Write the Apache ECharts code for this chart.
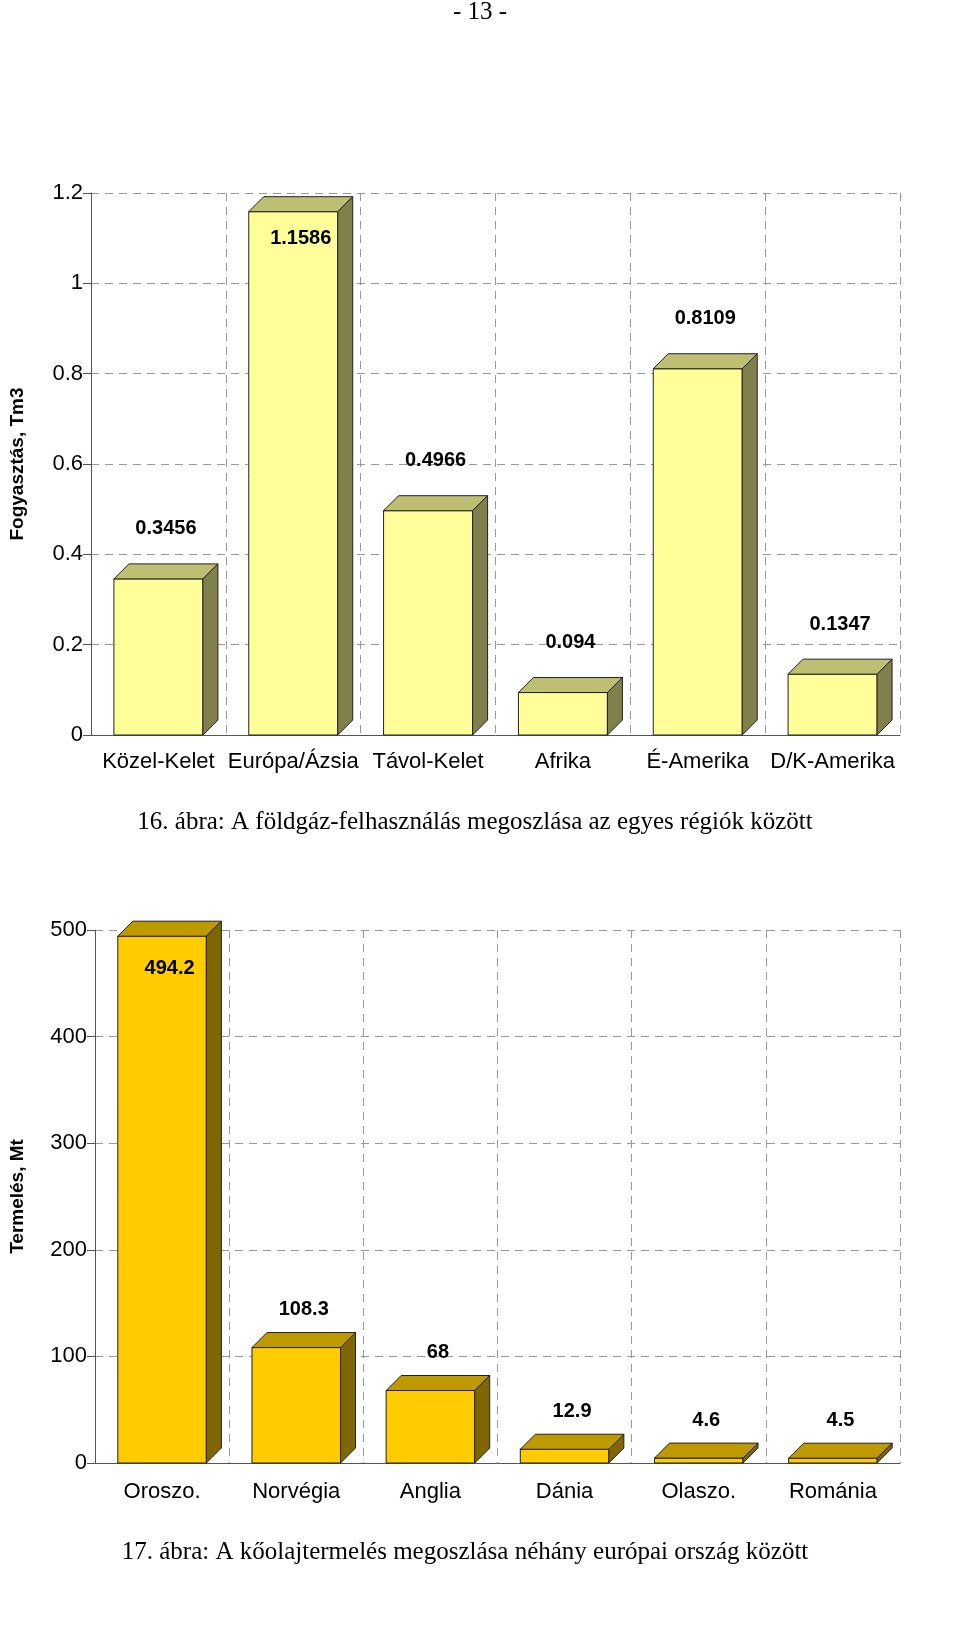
<!DOCTYPE html>
<html>
<head>
<meta charset="utf-8">
<script src="https://cdn.jsdelivr.net/npm/echarts@6/dist/echarts.min.js"></script>
<style>
  html, body { margin: 0; padding: 0; background: #fff; }
  #chart { width: 960px; height: 1637px; }
</style>
</head>
<body>
<div id="chart"></div>
<script>
// chart 16: gas consumption per region
var gasRegions = ['Közel-Kelet', 'Európa/Ázsia', 'Távol-Kelet', 'Afrika', 'É-Amerika', 'D/K-Amerika'];
var gasValues = [0.3456, 1.1586, 0.4966, 0.094, 0.8109, 0.1347];
// chart 17: oil production per country
var oilCountries = ['Oroszo.', 'Norvégia', 'Anglia', 'Dánia', 'Olaszo.', 'Románia'];
var oilValues = [494.2, 108.3, 68, 12.9, 4.6, 4.5];

var DEPTH = 15;

// 3d-looking bar: front face, top and side
function bar3d(colors, labelGap, topLimit) {
  return function (params, api) {
    var idx = api.value(0), val = api.value(1);
    var top = api.coord([idx, val]);
    var base = api.coord([idx, 0]);
    var w = api.size([1, 0])[0] * 0.66;
    var x0 = top[0] - w / 2, x1 = top[0] + w / 2;
    var ly = Math.max(top[1] - labelGap, topLimit);
    return {
      type: 'group',
      children: [
        { type: 'rect', shape: { x: x0, y: top[1], width: w, height: base[1] - top[1] },
          style: { fill: colors[0], stroke: '#222', lineWidth: 1 } },
        { type: 'polygon', shape: { points: [[x0, top[1]], [x0 + DEPTH, top[1] - DEPTH], [x1 + DEPTH, top[1] - DEPTH], [x1, top[1]]] },
          style: { fill: colors[1], stroke: '#222', lineWidth: 1 } },
        { type: 'polygon', shape: { points: [[x1, top[1]], [x1 + DEPTH, top[1] - DEPTH], [x1 + DEPTH, base[1] - DEPTH], [x1, base[1]]] },
          style: { fill: colors[2], stroke: '#222', lineWidth: 1 } },
        { type: 'text', style: { text: String(val), x: top[0] + DEPTH / 2, y: ly, align: 'center', verticalAlign: 'middle',
          font: 'bold 20px "Liberation Sans", Arial', fill: '#000' } }
      ]
    };
  };
}

var chart = echarts.init(document.getElementById('chart'));
var axisLabelStyle = { fontFamily: 'Liberation Sans', fontSize: 22, color: '#000' };
var split = { show: true, lineStyle: { color: '#999', type: [8, 6], width: 1 } };
var nameStyle = { fontFamily: 'Liberation Sans', fontSize: 19, fontWeight: 'bold', color: '#000' };

chart.setOption({
  animation: false,
  graphic: [
    { type: 'text', left: 'center', top: 0, style: { text: '- 13 -', font: '25px "Liberation Serif"', fill: '#000' } },
    { type: 'text', x: 475, y: 822, style: { text: '16. ábra: A földgáz-felhasználás megoszlása az egyes régiók között',
      font: '25px "Liberation Serif"', fill: '#000', align: 'center', verticalAlign: 'middle' } },
    { type: 'text', x: 465, y: 1552, style: { text: '17. ábra: A kőolajtermelés megoszlása néhány európai ország között',
      font: '25px "Liberation Serif"', fill: '#000', align: 'center', verticalAlign: 'middle' } }
  ],
  grid: [
    { left: 85, width: 815, top: 193, height: 542 },
    { left: 88, width: 812, top: 930, height: 533 }
  ],
  xAxis: [
    { gridIndex: 0, type: 'category', data: gasRegions, axisTick: { show: false },
      axisLine: { lineStyle: { color: '#555' } }, splitLine: split,
      axisLabel: Object.assign({ margin: 16, interval: 0 }, axisLabelStyle) },
    { gridIndex: 1, type: 'category', data: oilCountries, axisTick: { show: false },
      axisLine: { lineStyle: { color: '#555' } }, splitLine: split,
      axisLabel: Object.assign({ margin: 18, interval: 0 }, axisLabelStyle) }
  ],
  yAxis: [
    { gridIndex: 0, type: 'value', min: 0, max: 1.2, interval: 0.2,
      name: 'Fogyasztás, Tm3', nameLocation: 'middle', nameGap: 64, nameTextStyle: nameStyle,
      axisLine: { show: true, lineStyle: { color: '#555' } }, axisTick: { show: true, length: 8 },
      splitLine: split, axisLabel: axisLabelStyle },
    { gridIndex: 1, type: 'value', min: 0, max: 500, interval: 100,
      name: 'Termelés, Mt', nameLocation: 'middle', nameGap: 68, nameTextStyle: nameStyle,
      axisLine: { show: true, lineStyle: { color: '#555' } }, axisTick: { show: true, length: 8 },
      splitLine: split, axisLabel: axisLabelStyle }
  ],
  series: [
    { type: 'custom', xAxisIndex: 0, yAxisIndex: 0,
      renderItem: bar3d(['#FFFF99', '#BFBF73', '#80804D'], 50, 238),
      data: gasValues.map(function (v, i) { return [i, v]; }) },
    { type: 'custom', xAxisIndex: 1, yAxisIndex: 1,
      renderItem: bar3d(['#FFCC00', '#BF9900', '#806600'], 38, 968),
      data: oilValues.map(function (v, i) { return [i, v]; }) }
  ]
});
</script>
</body>
</html>
